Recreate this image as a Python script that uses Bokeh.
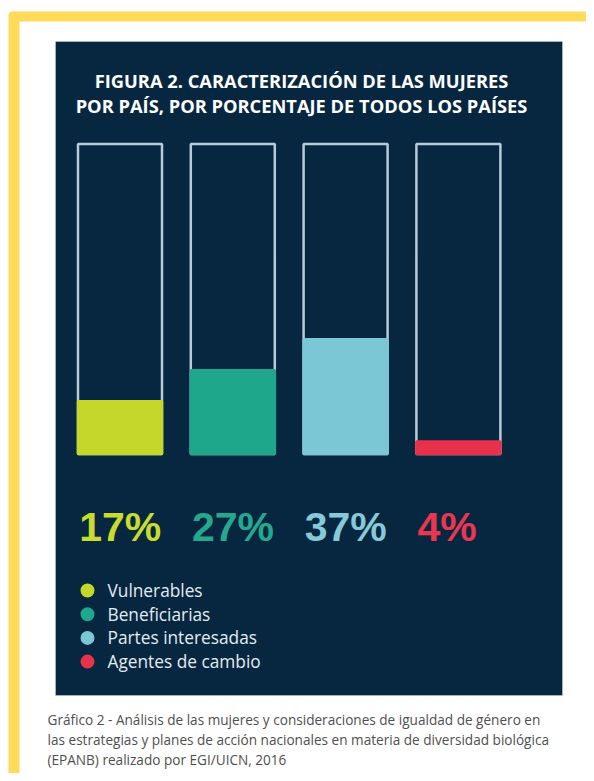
from bokeh.plotting import figure
from bokeh.models import Range1d, Label
from bokeh.core.properties import value
from bokeh.embed import file_html
from bokeh.resources import INLINE

# ---- data ----
categories = ["Vulnerables", "Beneficiarias", "Partes interesadas", "Agentes de cambio"]
percentages = [17, 27, 37, 4]
colors = ["#c5d72b", "#1fa78b", "#7bc7d5", "#e8314b"]
label_colors = ["#c9dc2e", "#25a98e", "#86c9d8", "#e8374f"]
title_lines = ["FIGURA 2. CARACTERIZACIÓN DE LAS MUJERES",
               "POR PAÍS, POR PORCENTAJE DE TODOS LOS PAÍSES"]
caption_lines = ["Gráfico 2 - Análisis de las mujeres y consideraciones de igualdad de género en",
                 "las estrategias y planes de acción nacionales en materia de diversidad biológica",
                 "(EPANB) realizado por EGI/UICN, 2016"]

W, H = 586, 773
XS = 112.8          # px per category unit
YS = 3.1            # px per percent
X0 = -119.5 / XS
Y1 = 100 + 143.5 / YS

def dx(px):
    return X0 + px / XS

def dy(py):
    return Y1 - py / YS

p = figure(width=W, height=H, output_backend="svg", toolbar_location=None,
           x_range=Range1d(X0, X0 + W / XS), y_range=Range1d(Y1 - H / YS, Y1),
           min_border=0, border_fill_color="white", background_fill_color="white")
p.axis.visible = False
p.grid.visible = False
p.outline_line_color = None

# frame decorations
yellow = "#fedc5a"
p.quad(left=[dx(8)], right=[dx(19)], top=[dy(15)], bottom=[dy(781)], fill_color=yellow, line_color=None)
p.quad(left=[dx(12)], right=[dx(600)], top=[dy(11)], bottom=[dy(21)], fill_color=yellow, line_color=None)
p.scatter(x=[dx(12)], y=[dy(15)], size=8, fill_color=yellow, line_color=None)

# navy panel
p.quad(left=[dx(55)], right=[dx(562)], top=[dy(41)], bottom=[dy(695)], fill_color="#06273f",
       line_color="#c9d4dc", line_width=1, line_alpha=0.5)

# title
for i, t in enumerate(title_lines):
    p.add_layout(Label(x=dx(301), y=dy(80 + 25 * i), text=t, text_align="center",
                       text_baseline="middle", text_color="white",
                       text_font="Open Sans", text_font_style="bold", text_font_size="18.3px"))

idx = list(range(len(categories)))
bw = 84 / XS

# outlines
p.vbar(x=idx, width=bw, top=[100] * 4, bottom=0, fill_color=None,
       line_color="#b7ccd9", line_width=2.5)
# filled values
p.vbar(x=idx, width=bw, top=percentages, bottom=0, fill_color=colors,
       line_color=colors, line_width=2.5)

# percentage labels
p.text(x=[i - bw / 2 + 0.01 for i in idx], y=[dy(526)] * 4, text=[f"{v}%" for v in percentages],
       text_color=label_colors, text_font=value("Liberation Sans"), text_font_style="bold",
       text_font_size="41px", text_align="left", text_baseline="alphabetic")

# legend
ly = [dy(590 + 23.7 * i) for i in idx]
p.scatter(x=[dx(87)] * 4, y=ly, size=14, fill_color=colors, line_color=None)
p.text(x=[dx(107)] * 4, y=ly, text=categories, text_color="#e4ecf1",
       text_font=value("Open Sans"), text_font_size="17.3px",
       text_align="left", text_baseline="middle")

# caption
for i, t in enumerate(caption_lines):
    p.add_layout(Label(x=dx(47), y=dy(719 + 20 * i), text=t, text_align="left",
                       text_baseline="middle", text_color="#4f4f4f",
                       text_font="Open Sans", text_font_size="13.6px"))

open("out.html", "w").write(file_html(p, INLINE))
